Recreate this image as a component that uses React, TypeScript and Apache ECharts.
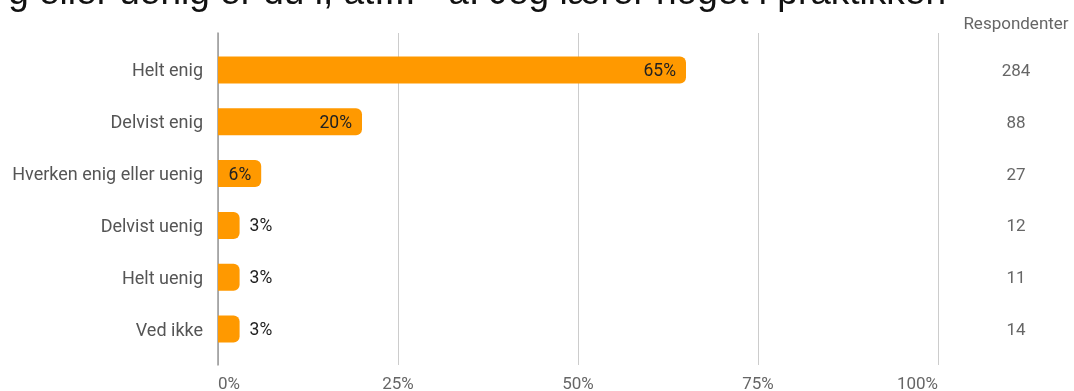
import React, { useEffect, useRef } from "react";
import * as echarts from "echarts";

const titleText = "g eller uenig er du i, at.... - a. Jeg lærer noget i praktikken";
const categories = ["Helt enig", "Delvist enig", "Hverken enig eller uenig", "Delvist uenig", "Helt uenig", "Ved ikke"];
const percentValues = [65, 20, 6, 3, 3, 3];
const respondentCounts = [284, 88, 27, 12, 11, 14];
const xTicks = [0, 25, 50, 75, 100];
const countHeader = "Respondenter";

export default function App() {
  const ref = useRef<HTMLDivElement>(null);
  useEffect(() => {
    if (!ref.current) return;
    const chart = echarts.init(ref.current, null, { renderer: "svg" });
    const labelBase = { show: true, distance: 10, color: "#212121", fontSize: 17.5, fontFamily: "Roboto", formatter: "{c}%" };
    const barData = percentValues.map((v) => ({
      value: v,
      label: v >= 5 ? { ...labelBase, position: "insideRight" } : { ...labelBase, position: "right" },
    }));
    chart.setOption({
      animation: false,
      grid: [
        { left: 218, right: 136, top: 33, bottom: 25 },
        { left: 218, right: 136, top: 44, bottom: 36 },
      ],
      xAxis: [
        {
          gridIndex: 0,
          type: "value",
          min: xTicks[0],
          max: xTicks[xTicks.length - 1],
          interval: 25,
          axisLine: { show: false },
          axisTick: { show: false },
          splitLine: { show: true, lineStyle: { color: "#cccccc", width: 1 } },
          axisLabel: {
            formatter: "{value}%",
            color: "#666666",
            fontSize: 17,
            fontFamily: "Roboto",
            margin: 9,
            alignMinLabel: "left",
            alignMaxLabel: "right",
          },
        },
        { gridIndex: 1, type: "value", min: 0, max: 100, show: false },
      ],
      yAxis: [
        {
          gridIndex: 0,
          type: "value",
          axisLine: { show: true, lineStyle: { color: "#999999", width: 1.5 } },
          axisTick: { show: false },
          axisLabel: { show: false },
          splitLine: { show: false },
        },
        {
          gridIndex: 1,
          type: "category",
          inverse: true,
          data: categories,
          axisLine: { show: false },
          axisTick: { show: false },
          axisLabel: { color: "#555555", fontSize: 18, fontFamily: "Roboto", margin: 15 },
        },
        {
          gridIndex: 1,
          type: "category",
          position: "right",
          inverse: true,
          data: respondentCounts.map(String),
          axisLine: { show: false },
          axisTick: { show: false },
          axisLabel: { color: "#666666", fontSize: 17, fontFamily: "Roboto", margin: 78, align: "center" },
        },
      ],
      graphic: [
        {
          type: "text",
          x: 946,
          y: -9,
          style: { text: titleText, fill: "#111111", font: "37px 'Liberation Sans'", textAlign: "right", textVerticalAlign: "middle" },
        },
        {
          type: "text",
          x: 1016,
          y: 23,
          style: { text: countHeader, fill: "#666666", font: "17px Roboto", textAlign: "center", textVerticalAlign: "middle" },
        },
      ],
      series: [
        {
          type: "bar",
          xAxisIndex: 1,
          yAxisIndex: 1,
          data: barData,
          barWidth: 27,
          itemStyle: { color: "#ff9900", borderRadius: [0, 6, 6, 0] },
        },
      ],
    });
    return () => chart.dispose();
  }, []);
  return <div ref={ref} style={{ position: "fixed", left: 0, top: 0, width: 1074, height: 391 }} />;
}
